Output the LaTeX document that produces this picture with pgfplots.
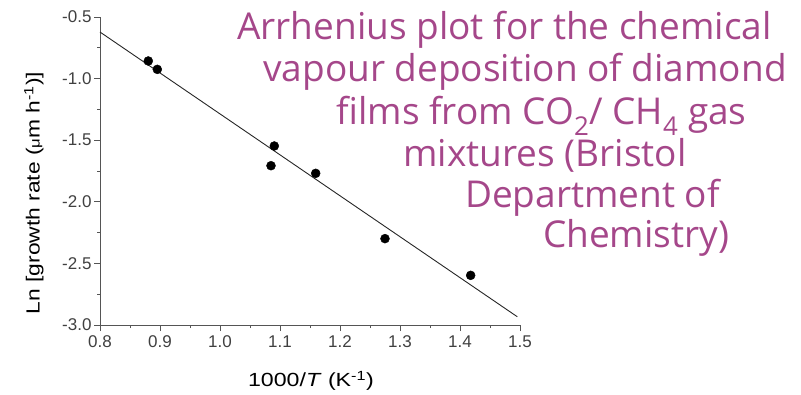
\documentclass[border=0pt]{standalone}
\usepackage{pgfplots}
\pgfplotsset{compat=1.18}
\usepackage{fontspec}
\setmainfont{Liberation Sans}
\newfontfamily\titlefont{Open Sans}
\definecolor{titlecol}{HTML}{A5478A}
\definecolor{axcol}{HTML}{555555}
\begin{document}
\begin{tikzpicture}[x=1pt,y=1pt]
\begin{axis}[
  at={(100pt,69pt)}, anchor=south west,
  scale only axis, width=420pt, height=308pt,
  xmin=0.8, xmax=1.5, ymin=-3.0, ymax=-0.5,
  axis lines*=left,
  axis line style={axcol, line width=1pt},
  every tick/.style={axcol, line width=0.8pt},
  tick align=outside,
  major tick length=6pt, minor tick length=3pt,
  xtick={0.8,0.9,...,1.5}, ytick={-3.0,-2.5,...,-0.5},
  minor tick num=1,
  /pgf/number format/assume math mode=true,
  /pgf/number format/.cd, fixed, fixed zerofill, precision=1, /pgfplots/.cd,
  tick label style={font=\fontsize{17}{19}\selectfont, text=black!75},
  xticklabel style={yshift=-1pt},
  yticklabel style={xshift=1pt},
  clip=false,
]
\addplot[only marks, mark=*, mark size=4.5pt, black] coordinates {
 (0.8805,-0.857) (0.8955,-0.925) (1.0905,-1.547) (1.085,-1.707)
 (1.1595,-1.769) (1.275,-2.299) (1.4178,-2.597)
};
\addplot[black!85, line width=0.9pt] coordinates {(0.8,-0.622) (1.4955,-2.933)};
\end{axis}
\node[inner sep=0pt, font=\fontsize{19}{21}\selectfont] at (311,394-381)
  {\scalebox{1.22}[1]{1000/\textit{T} (K\textsuperscript{-1})}};
\node[inner sep=0pt, rotate=90, font=\fontsize{19}{21}\selectfont] at (34,394-193)
  {\scalebox{1.2}[1]{Ln [growth rate ({\fontsize{14}{16}\selectfont μ}m h\textsuperscript{-1})]}};
\begin{scope}[every node/.style={anchor=base, inner sep=0pt, text=titlecol, font=\titlefont\fontsize{37}{42}\selectfont}]
\node at (504.5,394-40) {Arrhenius plot for the chemical};
\node at (525,394-82) {vapour deposition of diamond};
\node at (541.5,394-125) {films from CO\textsubscript{2}/ CH\textsubscript{4} gas};
\node at (545,394-167) {mixtures (Bristol};
\node at (592.5,394-208) {Department of};
\node at (636,394-248) {Chemistry)};
\end{scope}
\pgfresetboundingbox
\path[use as bounding box] (0,0) rectangle (801,394);
\end{tikzpicture}
\end{document}
